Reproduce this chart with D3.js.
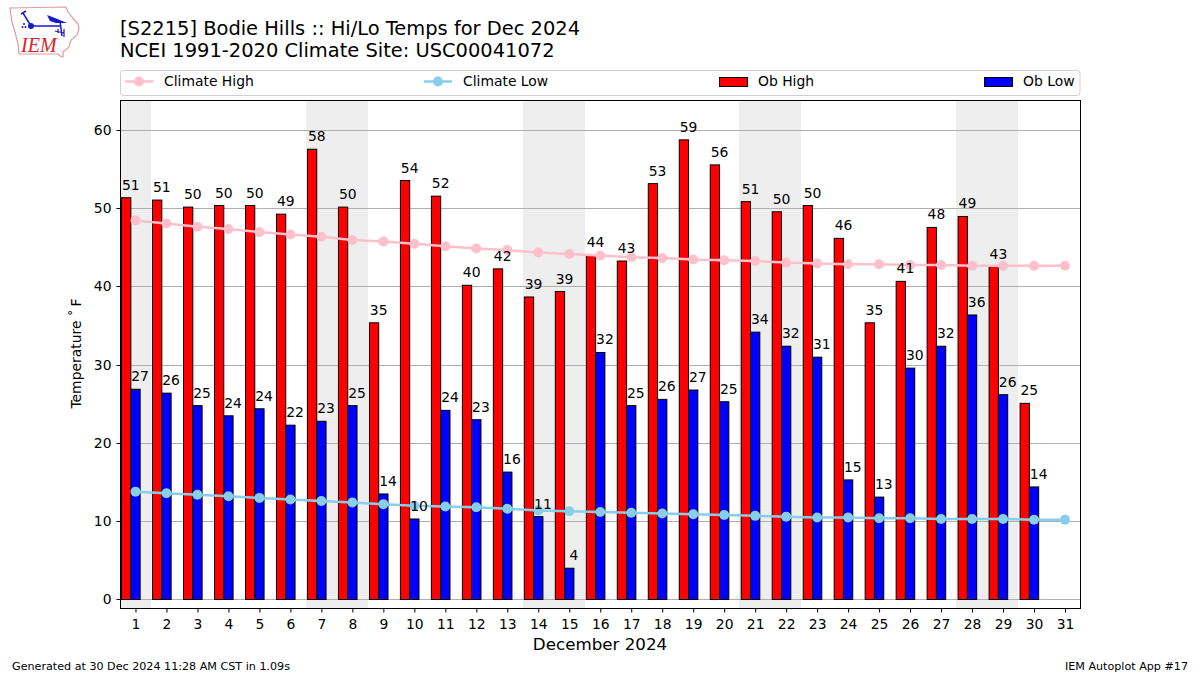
<!DOCTYPE html>
<html><head><meta charset="utf-8">
<script src="https://cdn.jsdelivr.net/npm/d3@7/dist/d3.min.js"></script>
<style>
html,body{margin:0;padding:0;background:#fff}
svg{display:block}
text{font-family:"DejaVu Sans",sans-serif;fill:#000}
</style></head><body>
<svg id="c" width="1200" height="675"></svg>
<script>
const days = d3.range(1, 32);
const obHigh = [51.4,51.1,50.2,50.4,50.4,49.3,57.6,50.2,35.4,53.6,51.6,40.2,42.3,38.7,39.4,44.1,43.3,53.2,58.8,55.6,50.9,49.6,50.4,46.2,35.4,40.7,47.6,49.0,42.6,25.1];
const obLow = [26.9,26.4,24.8,23.5,24.4,22.3,22.8,24.8,13.5,10.3,24.2,23.0,16.3,10.6,4.0,31.6,24.8,25.6,26.8,25.3,34.2,32.4,31.0,15.3,13.1,29.6,32.4,36.4,26.2,14.4];
const climateHigh = [48.5,48.1,47.7,47.4,47.0,46.7,46.4,46.0,45.8,45.5,45.2,44.9,44.7,44.4,44.2,44.0,43.8,43.7,43.5,43.4,43.3,43.1,43.0,42.9,42.9,42.8,42.8,42.7,42.7,42.7,42.7];
const climateLow = [13.8,13.6,13.4,13.2,13.0,12.8,12.6,12.4,12.2,12.0,11.9,11.8,11.6,11.4,11.3,11.2,11.1,11.0,10.9,10.8,10.7,10.6,10.5,10.5,10.4,10.4,10.3,10.3,10.3,10.2,10.2];
const weekends = [[0.5,1.5],[6.5,8.5],[13.5,15.5],[20.5,22.5],[27.5,29.5]];
const yTicks = [0,10,20,30,40,50,60];
const titleLines = ["[S2215] Bodie Hills :: Hi/Lo Temps for Dec 2024","NCEI 1991-2020 Climate Site: USC00041072"];
const xTitle = "December 2024";
const yTitle = "Temperature ˚\u2009F";
const footLeft = "Generated at 30 Dec 2024 11:28 AM CST in 1.09s";
const footRight = "IEM Autoplot App #17";

const L=120.5,R=1080.5,T=100.5,B=608.5;
const svg=d3.select("#c");
const x=d3.scaleLinear().domain([0.5,31.5]).range([120,1080.5]);
const y=d3.scaleLinear().domain([0,60]).range([599.5,130.5]);
const snapY=v=>Math.floor(y(v))+0.5;
const bw=x(0.3)-x(0);

svg.append("defs").append("clipPath").attr("id","plot").append("rect")
  .attr("x",L).attr("y",T).attr("width",R-L).attr("height",B-T);
const plot=svg.append("g").attr("clip-path","url(#plot)");

plot.selectAll("rect.wk").data(weekends).join("rect").attr("class","wk")
  .attr("x",d=>Math.round(x(d[0])-0.2)).attr("width",d=>Math.round(x(d[1])-x(d[0])))
  .attr("y",T).attr("height",B-T).attr("fill","#eeeeee");

plot.selectAll("line.grid").data(yTicks).join("line").attr("class","grid")
  .attr("x1",L).attr("x2",R)
  .attr("y1",snapY).attr("y2",snapY)
  .attr("stroke","#b0b0b0").attr("stroke-width",1);

function bars(vals,off,color){
  plot.append("g").selectAll("rect").data(vals).join("rect")
    .attr("x",(d,i)=>x(days[i]+off)).attr("width",bw)
    .attr("y",d=>y(d)).attr("height",d=>y(0)-y(d))
    .attr("fill",color).attr("stroke","#000").attr("stroke-width",1);
}
bars(obHigh,-0.45,"#ff0000");
bars(obLow,-0.15,"#0000ff");

function climate(vals,color){
  const g=plot.append("g");
  g.append("path").attr("fill","none").attr("stroke",color).attr("stroke-width",2.5)
    .attr("d",d3.line().x((d,i)=>x(days[i])).y(d=>y(d))(vals));
  g.selectAll("circle").data(vals).join("circle")
    .attr("cx",(d,i)=>x(days[i])).attr("cy",d=>y(d)).attr("r",5).attr("fill",color);
}
climate(climateHigh,"#ffc0cb");
climate(climateLow,"#87ceeb");

function labels(vals,off){
  svg.append("g").selectAll("text").data(vals).join("text")
    .attr("x",(d,i)=>x(days[i]+off)).attr("y",d=>y(d)-8)
    .attr("text-anchor","middle").attr("font-size",13.9)
    .text(d=>Math.round(d));
}
labels(obHigh,-0.15);
labels(obLow,0.15);

const ax=svg.append("g").attr("transform",`translate(0,${B})`)
  .call(d3.axisBottom(x).tickValues(days).tickFormat(d3.format("d")).tickSize(4).tickPadding(7));
const ay=svg.append("g").attr("transform",`translate(${L},0)`)
  .call(d3.axisLeft(y).tickValues(yTicks).tickFormat(d3.format("d")).tickSize(4).tickPadding(5));
ay.selectAll(".tick").attr("transform",d=>`translate(0,${snapY(d)})`);
[ax,ay].forEach(a=>{
  a.selectAll("text").attr("font-size",13.9).attr("fill","#000");
  a.selectAll("line").attr("stroke","#000");
  a.select(".domain").remove();
});
svg.append("rect").attr("x",L).attr("y",T).attr("width",R-L).attr("height",B-T)
  .attr("fill","none").attr("stroke","#000").attr("stroke-width",1);

svg.append("g").selectAll("text").data(titleLines).join("text")
  .attr("x",120).attr("y",(d,i)=>35+i*22).attr("font-size",19.45).text(d=>d);

svg.append("rect").attr("x",120.5).attr("y",70.5).attr("width",959.5).attr("height",25)
  .attr("rx",3).attr("fill","#fff").attr("stroke","#d0d0d0");
const lg=svg.append("g");
[["Climate High","#ffc0cb",125,164],["Climate Low","#87ceeb",424,463]].forEach(([t,c,x0,tx])=>{
  lg.append("line").attr("x1",x0).attr("x2",x0+28).attr("y1",81.5).attr("y2",81.5).attr("stroke",c).attr("stroke-width",2.5);
  lg.append("circle").attr("cx",x0+14).attr("cy",81.5).attr("r",5).attr("fill",c);
  lg.append("text").attr("x",tx).attr("y",86).attr("font-size",13.9).text(t);
});
[["Ob High","#ff0000",719.5,758],["Ob Low","#0000ff",984.5,1023]].forEach(([t,c,x0,tx])=>{
  lg.append("rect").attr("x",x0).attr("y",77.5).attr("width",28).attr("height",9).attr("fill",c).attr("stroke","#000");
  lg.append("text").attr("x",tx).attr("y",86).attr("font-size",13.9).text(t);
});

svg.append("text").attr("x",600).attr("y",649.5).attr("text-anchor","middle").attr("font-size",16.7).text(xTitle);
svg.append("text").attr("transform","translate(81,353.5) rotate(-90)").attr("text-anchor","middle").attr("font-size",13.9).text(yTitle);

svg.append("text").attr("x",12).attr("y",670).attr("font-size",11.15).text(footLeft);
svg.append("text").attr("x",1188).attr("y",670).attr("text-anchor","end").attr("font-size",11.15).text(footRight);

// logo
const logo=svg.append("g");
logo.append("path").attr("fill","none").attr("stroke","#e39aa0").attr("stroke-width",1.2)
  .attr("d","M10,8 L66,7 L68,12 L72,17 L78,24 L79,29 L77,35 L71,40 L69,47 L63,52 L63,57 L60,56 L58,54 L19,54 L18,44 L15,32 L12,22 Z");
logo.append("path").attr("fill","none").attr("stroke","#1a1acc").attr("stroke-width",1.5)
  .attr("d","M31,26 L60,26 M60,21 L62,36 M31,26 L23,13 M21,14 L26,11");
logo.append("path").attr("fill","#1a1acc").attr("d","M47,15 L55,18 L67,23 L56,23 L50,21 Z");
logo.append("circle").attr("cx",31).attr("cy",26).attr("r",3).attr("fill","#1a1acc");
logo.append("circle").attr("cx",24).attr("cy",24).attr("r",1).attr("fill","#1a1acc");
logo.append("circle").attr("cx",22.5).attr("cy",27).attr("r",1).attr("fill","#1a1acc");
logo.append("circle").attr("cx",25.5).attr("cy",27).attr("r",1).attr("fill","#1a1acc");
logo.append("path").attr("fill","none").attr("stroke","#1a1acc").attr("stroke-width",1.2)
  .attr("d","M55,31 L64,33 M58,29 L58,33 M64,29 L64,37");
logo.append("text").attr("x",21).attr("y",52).style("font-family","'Liberation Serif',serif")
  .style("font-style","italic").attr("font-size",20).style("fill","#d8232a").text("IEM");
</script>
</body></html>
